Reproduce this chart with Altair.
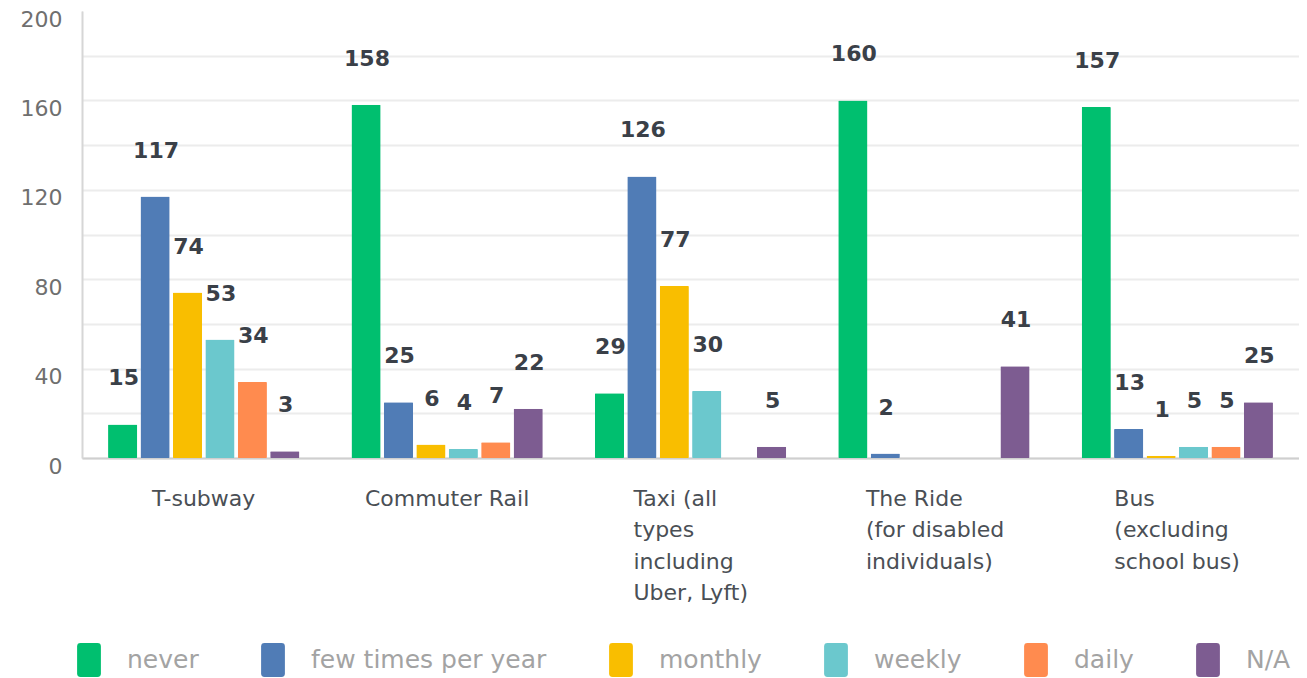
import altair as alt
import pandas as pd

categories = [
    "T-subway",
    "Commuter Rail",
    "Taxi (all|types|including|Uber, Lyft)",
    "The Ride|(for disabled|individuals)",
    "Bus|(excluding|school bus)",
]
series = ["never", "few times per year", "monthly", "weekly", "daily", "N/A"]
colors = ["#00BF6F", "#507CB6", "#F9BE00", "#6BC8CD", "#FF8B4F", "#7D5C91"]

never = [15, 158, 29, 160, 157]
few_times = [117, 25, 126, 2, 13]
monthly = [74, 6, 77, 0, 1]
weekly = [53, 4, 30, 0, 5]
daily = [34, 7, 0, 0, 5]
na = [3, 22, 5, 41, 25]

values = [never, few_times, monthly, weekly, daily, na]
rows = []
for s, vals in zip(series, values):
    for c, v in zip(categories, vals):
        rows.append({"mode": c, "freq": s, "value": v})
df = pd.DataFrame(rows)

FONT = "DejaVu Sans"

legend_shape = (
    "M-0.5,-1 H0.5 Q0.7,-1 0.7,-0.8 V0.8 Q0.7,1 0.5,1 H-0.5 "
    "Q-0.7,1 -0.7,0.8 V-0.8 Q-0.7,-1 -0.5,-1 Z"
)

# multi-line labels: lines left-aligned, block centred under its group
label_shift = {categories[2]: -57, categories[3]: -68, categories[4]: -63}

x_enc = alt.X(
    "mode:N",
    sort=categories,
    title=None,
    scale=alt.Scale(paddingInner=0.214, paddingOuter=0.107),
    axis=alt.Axis(
        labelAngle=0,
        labelExpr="split(datum.label, '|')",
        labelFont=FONT,
        labelFontSize=22,
        labelLineHeight=31.5,
        labelColor="#4a4f55",
        labelPadding=30,
        labelLimit=300,
        labelAlign={
            "condition": {"test": "indexof(datum.value, '|') >= 0", "value": "left"},
            "value": "center",
        },
        labelOffset={
            "condition": [
                {"test": f"datum.value == '{k}'", "value": v} for k, v in label_shift.items()
            ],
            "value": 0,
        },
        ticks=False,
        domain=True,
        domainColor="#cfcfcf",
        domainWidth=2,
        grid=False,
    ),
)
xoff_enc = alt.XOffset(
    "freq:N", sort=series, scale=alt.Scale(paddingInner=0.1, paddingOuter=0)
)
y_enc = alt.Y(
    "value:Q",
    title=None,
    scale=alt.Scale(domain=[0, 200], nice=False),
    axis=alt.Axis(
        values=list(range(0, 201, 20)),
        labelExpr="datum.value % 40 == 0 ? datum.label : ''",
        labelFont=FONT,
        labelFontSize=22,
        labelColor="#6f6f6f",
        labelOffset=8,
        labelPadding=20,
        minExtent=74,
        ticks=False,
        domain=True,
        domainColor="#d6d6d6",
        domainWidth=2,
        gridWidth=2,
        gridColor={"condition": {"test": "datum.value >= 200", "value": "#ffffff"}, "value": "#ececec"},
    ),
)

color_enc = alt.Color(
    "freq:N",
    sort=series,
    scale=alt.Scale(domain=series, range=colors),
    legend=alt.Legend(
        title=None,
        orient="none",
        legendX=-10,
        legendY=632,
        direction="horizontal",
        columns=6,
        symbolType=legend_shape,
        symbolSize=1156,
        symbolStrokeWidth=0,
        symbolOpacity=1,
        labelFont=FONT,
        labelFontSize=25,
        labelColor="#a3a3a3",
        labelOffset=21,
        labelLimit=400,
        columnPadding=57,
    ),
)

bars = alt.Chart(df).mark_bar(cornerRadius=1).encode(
    x=x_enc, xOffset=xoff_enc, y=y_enc, color=color_enc
)

labels = (
    alt.Chart(df)
    .transform_filter("datum.value > 0")
    .mark_text(
        font=FONT,
        fontSize=22,
        fontWeight="bold",
        color="#3a4048",
        baseline="middle",
        align="center",
        dy=-46,
        dx=1,
    )
    .encode(
        x=alt.X("mode:N", sort=categories),
        xOffset=alt.XOffset("freq:N", sort=series),
        y=alt.Y("value:Q"),
        text=alt.Text("value:Q"),
    )
)

chart = (
    alt.layer(bars, labels)
    .properties(width=1217, height=447, padding={"left": 0, "top": 0, "right": 0, "bottom": 0})
    .configure_view(stroke=None)
    .configure(background="white")
)

chart.save("out.html", embed_options={"renderer": "svg", "actions": False})
